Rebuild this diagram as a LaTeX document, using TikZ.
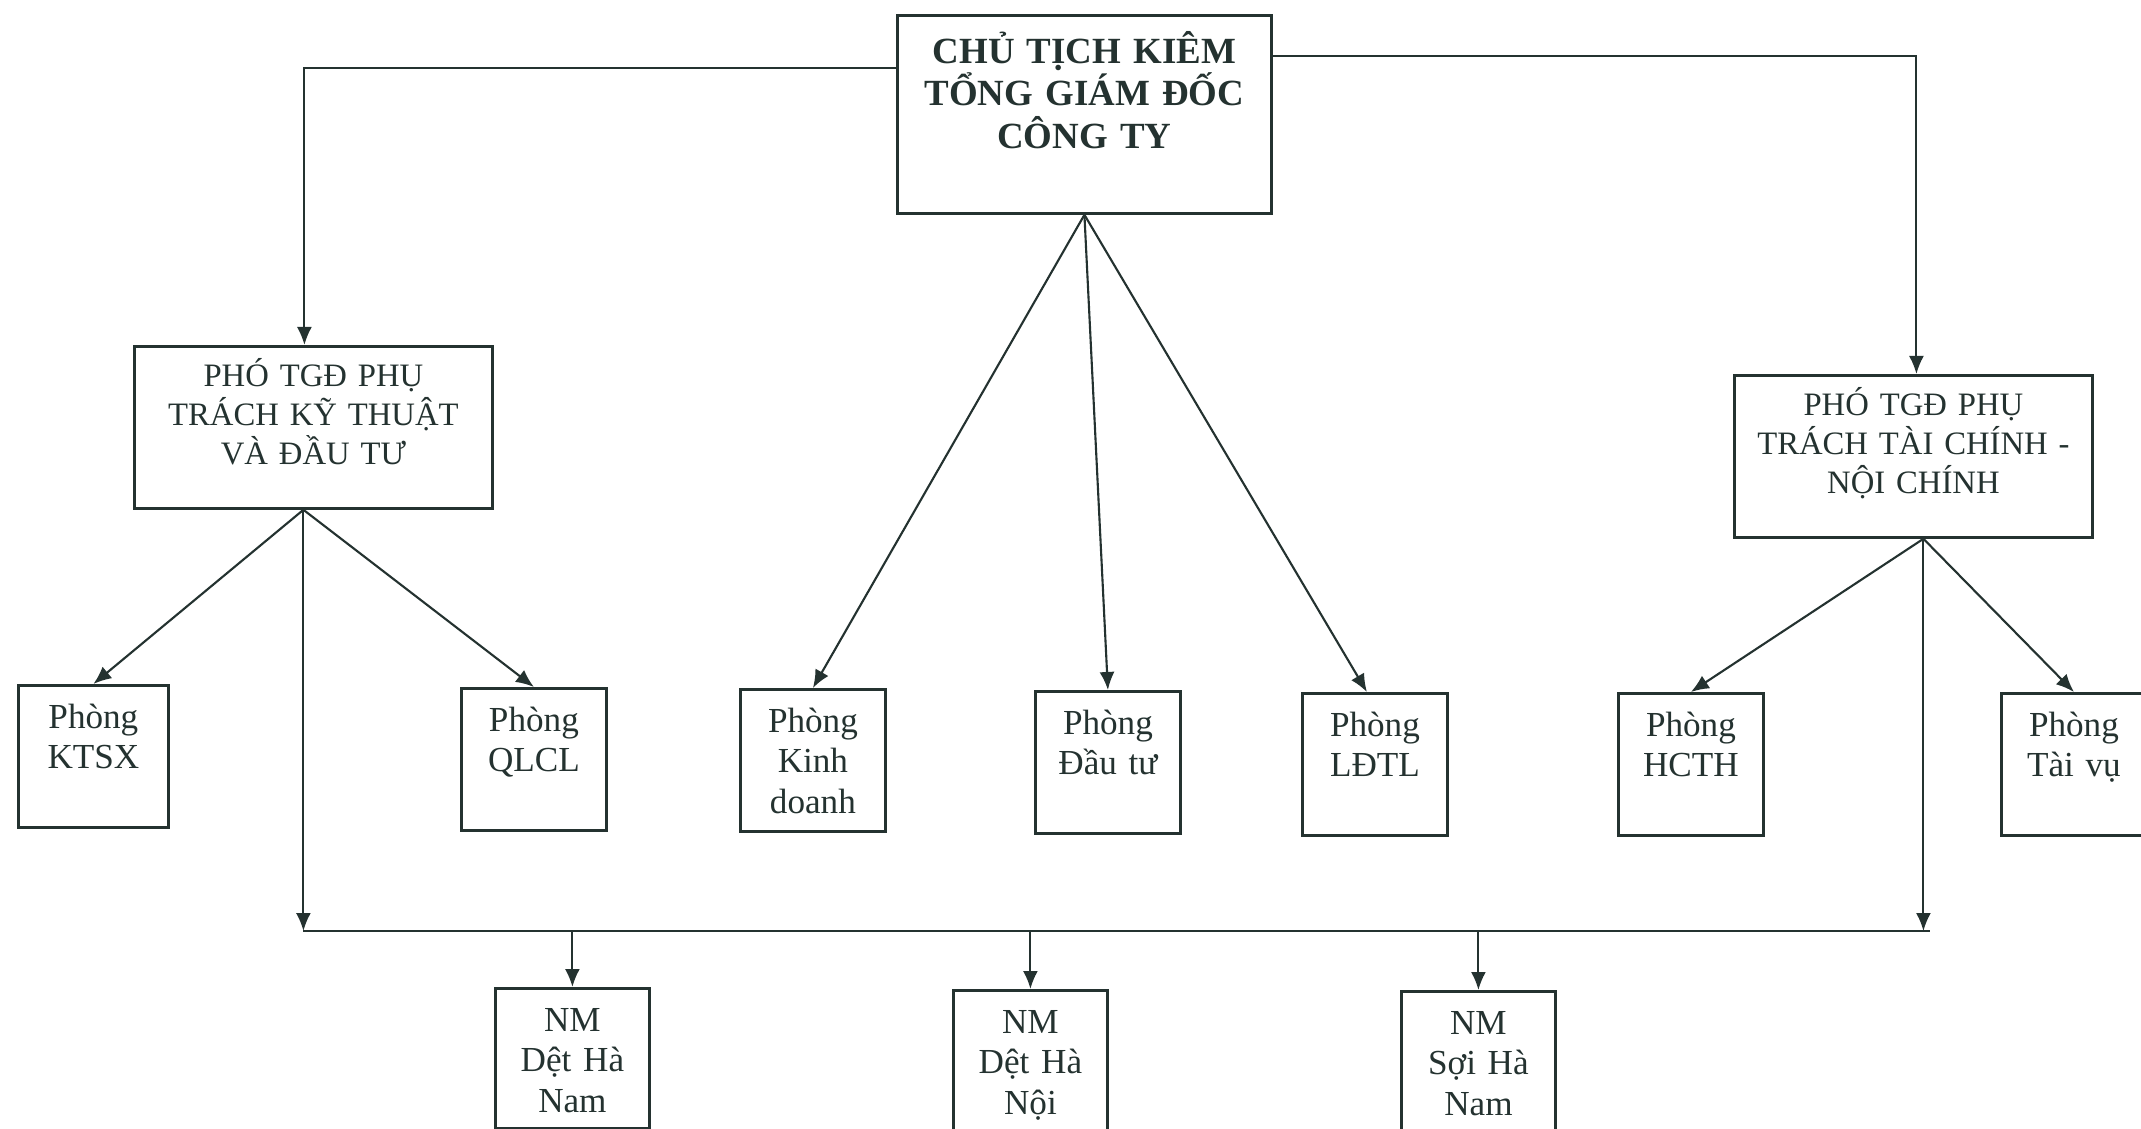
\documentclass[tikz,border=0pt]{standalone}
\usepackage{fontspec}
\setmainfont{Liberation Serif}
\usepackage{xcolor}
\usetikzlibrary{arrows.meta,calc}
\definecolor{ink}{RGB}{36,50,48}
\lineskiplimit=-6pt

\begin{document}
\begin{tikzpicture}[
        x=0.1mm, y=-0.1mm,
        color=ink,
        box/.style={rectangle, draw, fill=white, inner sep=0pt, align=center, anchor=north west, line width=0.8pt},
        chief/.style={box, font=\bfseries\fontsize{10.5}{12.1}\selectfont, text width=37.4mm, text height=4.8mm, text depth=15mm},
        deputy/.style={box, font=\fontsize{9.3}{11.1}\selectfont, text width=35.8mm, text height=4mm, text depth=12.2mm},
        dept/.style={box, font=\fontsize{10}{11.5}\selectfont, text width=14.5mm, text height=4.3mm, text depth=9.9mm},
        plant/.style={box, font=\fontsize{10}{11.5}\selectfont, text width=15.4mm, text height=4.3mm, text depth=9.7mm},
        arrow/.style={draw, -{Latex[length=1.8mm,width=1.5mm]}, line width=0.6pt},
        link/.style={draw, line width=0.6pt}
    ]
    \path[use as bounding box, fill=white] (0,0) rectangle (2141,1129);

    \node [chief] (ct) at (896,14) {CHỦ TỊCH KIÊM\\TỔNG GIÁM ĐỐC\\CÔNG TY};

    \node [deputy] (pkt) at (133,345) {PHÓ TGĐ PHỤ\\TRÁCH KỸ THUẬT\\VÀ ĐẦU TƯ};
    \node [deputy] (ptc) at (1733,374) {PHÓ TGĐ PHỤ\\TRÁCH TÀI CHÍNH -\\NỘI CHÍNH};

    \node [dept, text width=15mm] (ktsx) at (17,684) {Phòng\\KTSX};
    \node [dept] (qlcl) at (460,687) {Phòng\\QLCL};
    \node [dept] (kd) at (739,688) {Phòng\\Kinh\\doanh};
    \node [dept] (dt) at (1034,690) {Phòng\\Đầu tư};
    \node [dept] (ldtl) at (1301,692) {Phòng\\LĐTL};
    \node [dept] (hcth) at (1617,692) {Phòng\\HCTH};
    \node [dept] (tv) at (2000,692) {Phòng\\Tài vụ};

    \node [plant] (nm1) at (494,987) {NM\\Dệt Hà\\Nam};
    \node [plant] (nm2) at (952,989) {NM\\Dệt Hà\\Nội};
    \node [plant] (nm3) at (1400,990) {NM\\Sợi Hà\\Nam};

    \coordinate (pktS) at ([xshift=-1mm]pkt.south);
    \coordinate (ptcS) at ([xshift=1mm]ptc.south);
    \coordinate (busL) at (pktS |- 0,931);
    \coordinate (busR) at (ptcS |- 0,931);

    \path [arrow] ($(ct.north west)!0.27!(ct.south west)$) -| ([xshift=-0.9mm]pkt.north);
    \path [arrow] ($(ct.north east)!0.21!(ct.south east)$) -| ([xshift=0.3mm]ptc.north);

    \path [arrow] (ct.south) -- (kd.north);
    \path [arrow] (ct.south) -- (dt.north);
    \path [arrow] (ct.south) -- ([xshift=-0.8mm]ldtl.north);

    \path [arrow] (pktS) -- (ktsx.north);
    \path [arrow] (pktS) -- (qlcl.north);
    \path [arrow] (pktS) -- (busL);

    \path [arrow] (ptcS) -- (hcth.north);
    \path [arrow] (ptcS) -- (tv.north);
    \path [arrow] (ptcS) -- (busR);

    \path [link] (busL) -- ([xshift=2pt]busR);
    \path [arrow] (nm1.north |- busL) -- (nm1.north);
    \path [arrow] (nm2.north |- busL) -- (nm2.north);
    \path [arrow] (nm3.north |- busL) -- (nm3.north);

\end{tikzpicture}
\end{document}
